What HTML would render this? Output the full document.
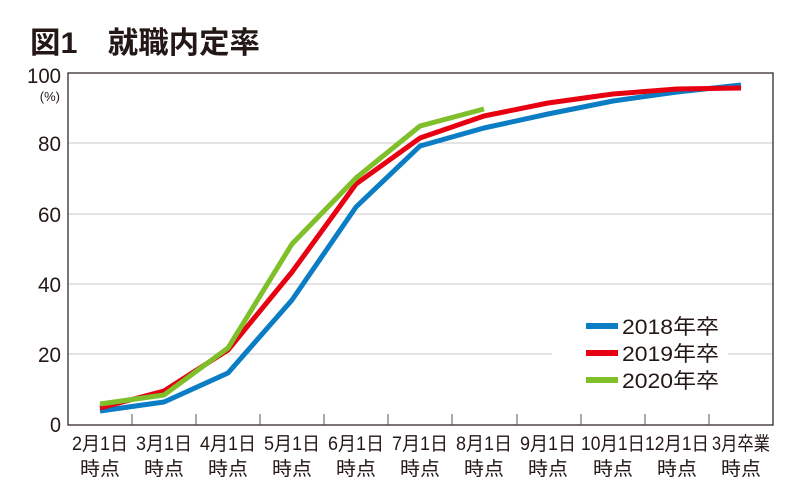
<!DOCTYPE html>
<html><head><meta charset="utf-8"><style>
body{margin:0;background:#fff;}
svg{display:block;font-family:"Liberation Sans","Noto Sans CJK JP",sans-serif;}
</style></head><body>
<svg width="800" height="502" viewBox="0 0 800 502" xmlns="http://www.w3.org/2000/svg">
<text x="30" y="53" font-size="30" font-weight="bold" fill="#231815" textLength="230" lengthAdjust="spacingAndGlyphs">図1　就職内定率</text>
<g stroke="#c8c8c8" stroke-width="1">
<line x1="68" y1="143" x2="773" y2="143"/>
<line x1="68" y1="214" x2="773" y2="214"/>
<line x1="68" y1="284" x2="773" y2="284"/>
<line x1="68" y1="354" x2="773" y2="354"/>
</g>
<rect x="552" y="314" width="176" height="80" fill="#fff"/>
<rect x="68" y="73" width="705" height="352" fill="none" stroke="#231815" stroke-width="1.2"/>
<g stroke="#555" stroke-width="1">
<line x1="132" y1="414" x2="132" y2="425"/><line x1="196" y1="414" x2="196" y2="425"/>
<line x1="260" y1="414" x2="260" y2="425"/><line x1="324" y1="414" x2="324" y2="425"/>
<line x1="388" y1="414" x2="388" y2="425"/><line x1="452" y1="414" x2="452" y2="425"/>
<line x1="517" y1="414" x2="517" y2="425"/><line x1="581" y1="414" x2="581" y2="425"/>
<line x1="645" y1="414" x2="645" y2="425"/><line x1="709" y1="414" x2="709" y2="425"/>
</g>
<g font-size="21" fill="#231815" text-anchor="end">
<text x="61" y="83" textLength="34" lengthAdjust="spacingAndGlyphs">100</text>
<text x="61" y="151" textLength="23" lengthAdjust="spacingAndGlyphs">80</text>
<text x="61" y="222" textLength="23" lengthAdjust="spacingAndGlyphs">60</text>
<text x="61" y="292" textLength="23" lengthAdjust="spacingAndGlyphs">40</text>
<text x="61" y="362" textLength="23" lengthAdjust="spacingAndGlyphs">20</text>
<text x="61" y="432" textLength="11" lengthAdjust="spacingAndGlyphs">0</text>
</g>
<text x="60" y="101" font-size="13" fill="#231815" text-anchor="end">(%)</text>
<g fill="none" stroke-width="5" stroke-linejoin="round" stroke-linecap="butt">
<polyline stroke="#0b7dc4" points="100,411 164,402 228,373 292,300 356,207 420,146 484,128 548,114 613,101 677,92 741,85"/>
<polyline stroke="#e60012" points="100,408 164,391 228,350 292,272 356,184 420,138 484,116 548,103 613,94 677,89 741,88"/>
<polyline stroke="#7fbf2a" points="100,404 164,395 228,348 292,244 356,178 420,126 484,109"/>
</g>
<g stroke-width="6">
<line x1="586" y1="326" x2="618" y2="326" stroke="#0b7dc4"/>
<line x1="586" y1="353" x2="618" y2="353" stroke="#e60012"/>
<line x1="586" y1="380" x2="618" y2="380" stroke="#7fbf2a"/>
</g>
<g font-size="21" fill="#231815">
<text x="622" y="334" textLength="97" lengthAdjust="spacingAndGlyphs">2018年卒</text>
<text x="622" y="361" textLength="97" lengthAdjust="spacingAndGlyphs">2019年卒</text>
<text x="622" y="388" textLength="97" lengthAdjust="spacingAndGlyphs">2020年卒</text>
</g>
<g font-size="19" fill="#231815" text-anchor="middle" lengthAdjust="spacingAndGlyphs">
<text x="100" y="450" textLength="56" lengthAdjust="spacingAndGlyphs">2月1日</text><text x="100" y="475" textLength="40" lengthAdjust="spacingAndGlyphs">時点</text>
<text x="164" y="450" textLength="56" lengthAdjust="spacingAndGlyphs">3月1日</text><text x="164" y="475" textLength="40" lengthAdjust="spacingAndGlyphs">時点</text>
<text x="228" y="450" textLength="56" lengthAdjust="spacingAndGlyphs">4月1日</text><text x="228" y="475" textLength="40" lengthAdjust="spacingAndGlyphs">時点</text>
<text x="292" y="450" textLength="56" lengthAdjust="spacingAndGlyphs">5月1日</text><text x="292" y="475" textLength="40" lengthAdjust="spacingAndGlyphs">時点</text>
<text x="356" y="450" textLength="56" lengthAdjust="spacingAndGlyphs">6月1日</text><text x="356" y="475" textLength="40" lengthAdjust="spacingAndGlyphs">時点</text>
<text x="420" y="450" textLength="56" lengthAdjust="spacingAndGlyphs">7月1日</text><text x="420" y="475" textLength="40" lengthAdjust="spacingAndGlyphs">時点</text>
<text x="484" y="450" textLength="56" lengthAdjust="spacingAndGlyphs">8月1日</text><text x="484" y="475" textLength="40" lengthAdjust="spacingAndGlyphs">時点</text>
<text x="548" y="450" textLength="56" lengthAdjust="spacingAndGlyphs">9月1日</text><text x="548" y="475" textLength="40" lengthAdjust="spacingAndGlyphs">時点</text>
<text x="613" y="450" textLength="64" lengthAdjust="spacingAndGlyphs">10月1日</text><text x="613" y="475" textLength="40" lengthAdjust="spacingAndGlyphs">時点</text>
<text x="677" y="450" textLength="64" lengthAdjust="spacingAndGlyphs">12月1日</text><text x="677" y="475" textLength="40" lengthAdjust="spacingAndGlyphs">時点</text>
<text x="741" y="450" textLength="58" lengthAdjust="spacingAndGlyphs">3月卒業</text><text x="741" y="475" textLength="40" lengthAdjust="spacingAndGlyphs">時点</text>
</g>
</svg>
</body></html>
